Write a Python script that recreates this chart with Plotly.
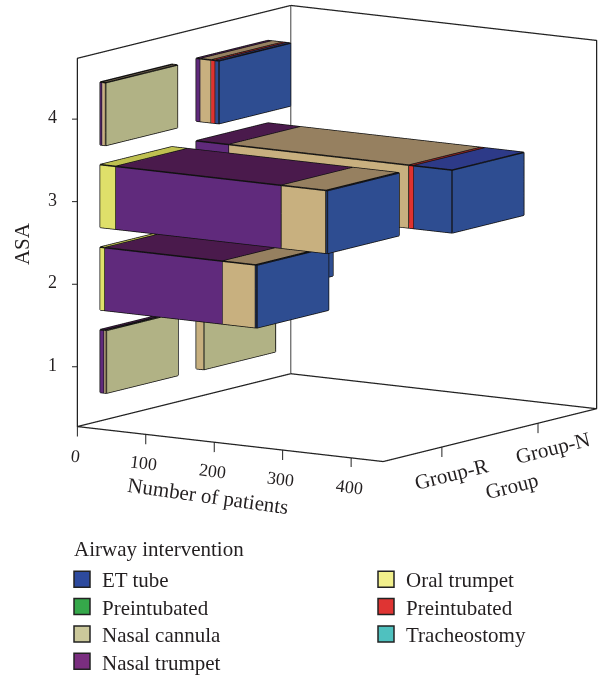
import plotly.graph_objects as go

FONT = "Liberation Serif"
INK = "#231f20"

patient_ticks = [0, 100, 200, 300, 400]
groups = ["Group-R", "Group-N"]
asa_levels = [1, 2, 3, 4]
interventions = ["Oral trumpet", "Nasal trumpet", "Nasal cannula", "Preintubated", "ET tube"]

# patients per ASA level (1..4), in stacking order
group_r_oral = [0, 7, 23, 0]
group_r_ntrump = [6, 172, 242, 3]
group_r_cannula = [3, 48, 65, 5]
group_r_preint = [0, 0, 0, 0]
group_r_et = [0, 2, 2, 0]

group_n_oral = [0, 0, 0, 0]
group_n_ntrump = [0, 40, 48, 6]
group_n_cannula = [11, 50, 263, 16]
group_n_preint = [0, 0, 7, 6]
group_n_et = [0, 5, 56, 5]

series = {
    "Group-R": [group_r_oral, group_r_ntrump, group_r_cannula, group_r_preint, group_r_et],
    "Group-N": [group_n_oral, group_n_ntrump, group_n_cannula, group_n_preint, group_n_et],
}

legend_left = ["ET tube", "Preintubated", "Nasal cannula", "Nasal trumpet"]
legend_left_colors = ["#2d4a9e", "#35a84a", "#cbc89b", "#7a2e80"]
legend_right = ["Oral trumpet", "Preintubated", "Tracheostomy"]
legend_right_colors = ["#f2f08c", "#df3433", "#4fc1bf"]

# front, end cap, top shades
shades = {
    "Oral trumpet": ("#dfe06a", "#dfe06a", "#bfc050"),
    "Nasal trumpet": ("#602a7c", "#602a7c", "#4a1a4c"),
    "Nasal cannula": ("#c8b07f", "#b1b285", "#968060"),
    "Preintubated": ("#e0322e", "#e0322e", "#8a2020"),
    "ET tube": ("#2e4d91", "#2e4d91", "#2d3a88"),
}

X_MAX = 447
Y_LIM = [-0.611, 1.611]
Z_LIM = [0.275, 4.737]
BAR_DEPTH = 0.373
BAR_HEIGHT = 0.38

# scene bounds slightly wider than the frame so ticks and frame lines are not clipped
X_PAD, Y_PAD, Z_PAD = 25, 0.15, 0.25
X_RANGE = [-X_PAD, X_MAX + X_PAD]
Y_RANGE = [Y_LIM[0] - Y_PAD, Y_LIM[1] + Y_PAD]
Z_RANGE = [Z_LIM[0] - Z_PAD, Z_LIM[1] + Z_PAD]

fig = go.Figure()
ex, ey, ez = [], [], []


def add_box(x0, x1, yc, zc, name):
    y0, y1 = yc - BAR_DEPTH, yc + BAR_DEPTH
    z0, z1 = zc - BAR_HEIGHT, zc + BAR_HEIGHT
    vx = [x0, x1, x1, x0, x0, x1, x1, x0]
    vy = [y0, y0, y1, y1, y0, y0, y1, y1]
    vz = [z0, z0, z0, z0, z1, z1, z1, z1]
    front, cap, top = shades[name]
    tri = [
        (0, 1, 5, front), (0, 5, 4, front),
        (1, 2, 6, cap), (1, 6, 5, cap),
        (4, 5, 6, top), (4, 6, 7, top),
        (3, 2, 6, front), (3, 6, 7, front),
        (0, 3, 7, cap), (0, 7, 4, cap),
        (0, 1, 2, top), (0, 2, 3, top),
    ]
    fig.add_trace(go.Mesh3d(
        x=vx, y=vy, z=vz,
        i=[t[0] for t in tri], j=[t[1] for t in tri], k=[t[2] for t in tri],
        facecolor=[t[3] for t in tri], flatshading=True,
        lighting=dict(ambient=1, diffuse=0, specular=0, roughness=1, fresnel=0),
        hoverinfo="skip", showlegend=False,
    ))
    for p, q in [(0, 1), (1, 2), (2, 3), (3, 0), (4, 5), (5, 6), (6, 7), (7, 4), (0, 4), (1, 5), (2, 6), (3, 7)]:
        ex.extend([vx[p], vx[q], None])
        ey.extend([vy[p], vy[q], None])
        ez.extend([vz[p], vz[q], None])


for gi, g in enumerate(groups):
    for ai, asa in enumerate(asa_levels):
        start = 0
        for si, name in enumerate(interventions):
            v = series[g][si][ai]
            if v > 0:
                add_box(start, start + v, gi, asa, name)
                start += v

fig.add_trace(go.Scatter3d(x=ex, y=ey, z=ez, mode="lines",
                           line=dict(color="#111111", width=3),
                           hoverinfo="skip", showlegend=False))

# frame of the walls and floor
ylo, yhi = Y_LIM
zlo, zhi = Z_LIM
frame_x = [0, 0, 0, 0, 0, None, 0, X_MAX, X_MAX, 0, None, 0, X_MAX, X_MAX]
frame_y = [yhi, ylo, ylo, yhi, None, None, yhi, yhi, yhi, yhi, None, ylo, ylo, yhi]
frame_z = [zlo, zlo, zhi, zhi, None, None, zlo, zlo, zhi, zhi, None, zlo, zlo, zlo]
fig.add_trace(go.Scatter3d(x=frame_x, y=frame_y, z=frame_z, mode="lines",
                           line=dict(color="#222222", width=2.5),
                           hoverinfo="skip", showlegend=False))
fig.add_trace(go.Scatter3d(x=[0, 0], y=[yhi, yhi], z=[zlo, zhi], mode="lines",
                           line=dict(color="#666666", width=2.5),
                           hoverinfo="skip", showlegend=False))

# tick marks
tx, ty, tz = [], [], []
for v in patient_ticks:
    tx += [v, v, None]
    ty += [ylo, ylo, None]
    tz += [zlo, zlo - 0.12, None]
for i in range(len(groups)):
    tx += [X_MAX, X_MAX, None]
    ty += [i, i, None]
    tz += [zlo, zlo - 0.12, None]
for a in asa_levels:
    tx += [0, -0.022 * X_MAX, None]
    ty += [ylo, ylo - 0.022 * 2.222 * 0.7, None]
    tz += [a, a, None]
fig.add_trace(go.Scatter3d(x=tx, y=ty, z=tz, mode="lines",
                           line=dict(color="#222222", width=2),
                           hoverinfo="skip", showlegend=False))

digit_font = dict(family=FONT, size=18, color=INK)
font = dict(family=FONT, size=21, color=INK)
ann = []
for v in patient_ticks:
    ann.append(dict(x=v, y=ylo, z=zlo, text=str(v), showarrow=False, textangle=7,
                    xshift=-2, yshift=-29, font=digit_font))
for i, g in enumerate(groups):
    ann.append(dict(x=X_MAX, y=i, z=zlo, text=g, showarrow=False, textangle=-14,
                    xshift=10 + 5 * i, yshift=-27 + 2 * i, font=font))
for a in asa_levels:
    ann.append(dict(x=0, y=ylo, z=a, text=str(a), showarrow=False, xshift=-25, yshift=2, font=digit_font))
ann.append(dict(x=200, y=ylo, z=zlo, text="Number of patients", showarrow=False, textangle=8,
                xshift=-6, yshift=-54, font=font))
ann.append(dict(x=X_MAX, y=0.5, z=zlo, text="Group", showarrow=False, textangle=-14,
                xshift=22, yshift=-51, font=font))
ann.append(dict(x=0, y=ylo, z=2.49, text="ASA", showarrow=False, textangle=-90,
                xshift=-56, font=font))

# the layout is a little taller than the window so the last legend row can sit low enough
W, H = 602, 700
ROW_0, ROW_STEP = 580, 27.4
HALF_ROW = 20
LEFT_X, RIGHT_X = 62, 366
legends = {}
entries = [(n, c, LEFT_X, r) for r, (n, c) in enumerate(zip(legend_left, legend_left_colors))]
entries += [(n, c, RIGHT_X, r) for r, (n, c) in enumerate(zip(legend_right, legend_right_colors))]
for idx, (n, c, lx, r) in enumerate(entries):
    key = "legend" if idx == 0 else f"legend{idx + 1}"
    fig.add_trace(go.Scatter(x=[None], y=[None], mode="markers", name=n, legend=key,
                             marker=dict(symbol="square", size=16, color=c,
                                         line=dict(color="#222222", width=1.5))))
    legends[key] = dict(x=lx / W, y=1 - (ROW_0 + r * ROW_STEP + HALF_ROW) / H,
                        xanchor="left", yanchor="bottom",
                        bgcolor="rgba(0,0,0,0)", font=font)

hidden = dict(visible=False, showgrid=False, zeroline=False, showbackground=False,
              showspikes=False, autorange=False)
m = 2.0
ZOOM = 1.6
base_aspect = (ZOOM * 0.99 / X_MAX, ZOOM * 1.016 / (Y_LIM[1] - Y_LIM[0]), ZOOM * 1.0 / (Z_LIM[1] - Z_LIM[0]))
fig.update_layout(
    width=W, height=H, autosize=False,
    margin=dict(l=0, r=0, t=0, b=0),
    paper_bgcolor="white", plot_bgcolor="rgba(0,0,0,0)",
    showlegend=True,
    font=dict(family=FONT, size=21, color=INK),
    xaxis=dict(visible=False), yaxis=dict(visible=False),
    annotations=[dict(text="Airway intervention", x=72 / W, y=1 - 549 / H, xref="paper", yref="paper",
                      xanchor="left", yanchor="middle", showarrow=False, font=font)],
    scene=dict(
        domain=dict(x=[72 / W, 1], y=[1 - 467 / H, 1]),
        xaxis=dict(range=X_RANGE, **hidden),
        yaxis=dict(range=Y_RANGE, **hidden),
        zaxis=dict(range=Z_RANGE, **hidden),
        aspectmode="manual",
        aspectratio=dict(x=base_aspect[0] * (X_RANGE[1] - X_RANGE[0]),
                         y=base_aspect[1] * (Y_RANGE[1] - Y_RANGE[0]),
                         z=base_aspect[2] * (Z_RANGE[1] - Z_RANGE[0])),
        camera=dict(projection=dict(type="orthographic"),
                    up=dict(x=0, y=0, z=1),
                    center=dict(x=0, y=0, z=0),
                    eye=dict(x=0.554 * m, y=-0.815 * m, z=0.1683 * m)),
        annotations=ann,
        bgcolor="rgba(0,0,0,0)",
    ),
    **legends,
)
fig.write_html("out.html", config=dict(displayModeBar=False),
               post_script="document.body.style.margin='0';document.body.style.overflow='hidden';document.documentElement.style.overflow='hidden';")
